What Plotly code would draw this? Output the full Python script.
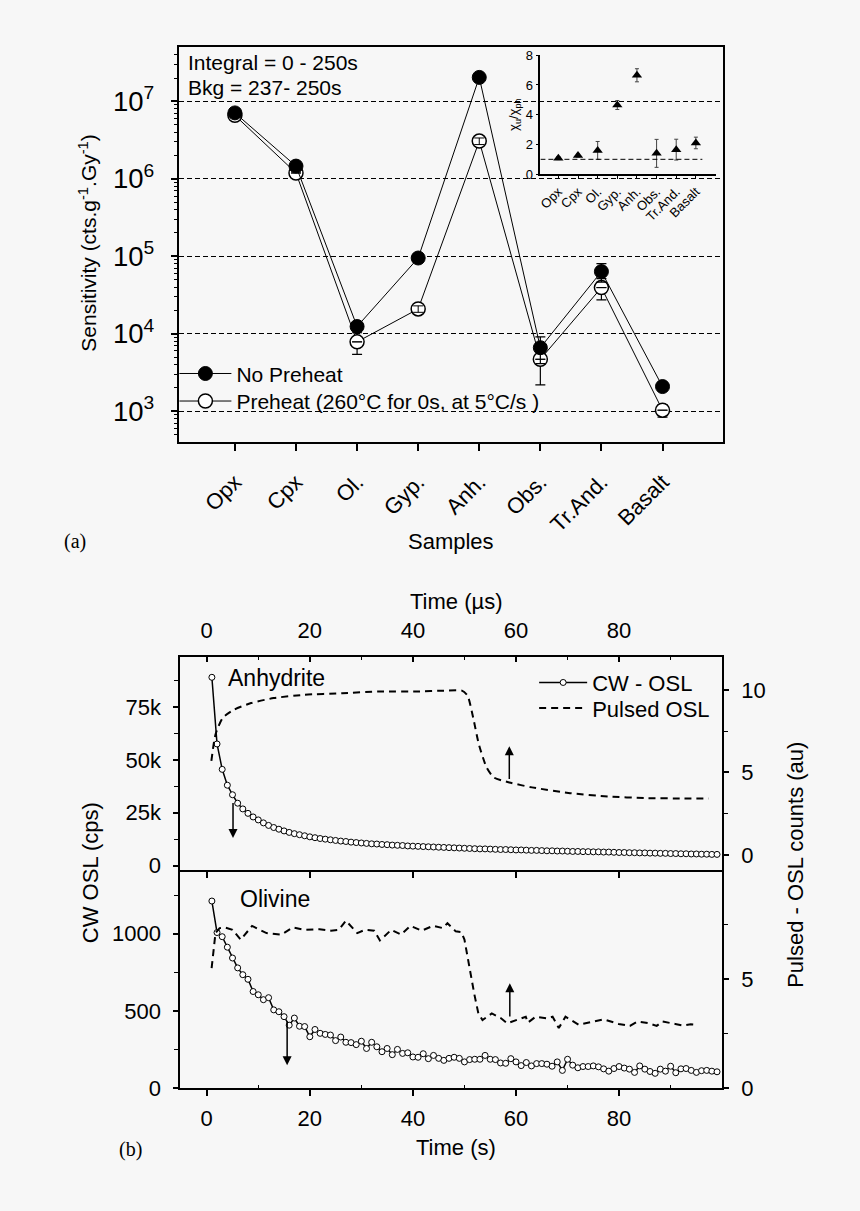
import plotly.graph_objects as go

# ---------------- data ----------------
samples = ["Opx", "Cpx", "Ol.", "Gyp.", "Anh.", "Obs.", "Tr.And.", "Basalt"]
no_preheat = [7.1e6, 1.46e6, 1.24e4, 9.5e4, 2.04e7, 6.6e3, 6.35e4, 2.08e3]
no_preheat_err = [0, 0, 0, 0, 0, 2500, 17000, 0]
preheat = [6.6e6, 1.19e6, 7.85e3, 2.09e4, 3.07e6, 4.68e3, 3.94e4, 1.03e3]
preheat_err = [0, 0, 2450, 0, 0, 2500, 12000, 190]
preheat_small_err = [0, 0, 0, 2000, 3.0e5, 0, 0, 0]

chi_ratio = [1.08, 1.25, 1.6, 4.65, 6.65, 1.4, 1.65, 2.1]
chi_err = [0.1, 0.1, 0.6, 0.3, 0.44, 0.94, 0.7, 0.39]

t_s = list(range(1, 100))
anh_cw_k = [89, 57.5, 45.5, 38, 33.5, 29.5, 26.8, 24.7, 23, 21.6,
            20.2, 19, 18, 17.2, 16.4, 15.7, 15.1, 14.6, 14.1, 13.6,
            13.2, 12.8, 12.5, 12.2, 11.9, 11.6, 11.4, 11.1, 10.9, 10.7,
            10.5, 10.3, 10.2, 10.0, 9.9, 9.7, 9.6, 9.5, 9.3, 9.2,
            9.1, 9.0, 8.9, 8.8, 8.7, 8.6, 8.5, 8.4, 8.3, 8.2,
            8.1, 8.0, 7.9, 7.9, 7.8, 7.7, 7.6, 7.6, 7.5, 7.4,
            7.4, 7.3, 7.2, 7.2, 7.1, 7.0, 7.0, 6.9, 6.9, 6.8,
            6.7, 6.7, 6.6, 6.6, 6.5, 6.5, 6.4, 6.4, 6.3, 6.2,
            6.2, 6.1, 6.1, 6.0, 6.0, 5.9, 5.9, 5.8, 5.8, 5.7,
            5.7, 5.6, 5.6, 5.5, 5.5, 5.4, 5.4, 5.3, 5.3]
anh_pulsed_t = [0.9, 1.7, 3.1, 5.3, 8.6, 13, 18.9, 26.3, 33.6, 41, 46, 49.5,
                50.6, 51.7, 52.8, 54.3, 55.7, 58.7, 63.1, 70.5, 77.8, 85.2, 92.6, 97.4]
anh_pulsed = [5.7, 7.3, 8.3, 8.8, 9.2, 9.5, 9.7, 9.8, 9.9, 9.9, 9.95, 9.95,
              9.65, 8.3, 6.7, 5.3, 4.7, 4.4, 4.1, 3.75, 3.55, 3.45, 3.43, 3.43]

oli_cw = [1212, 1008, 981, 913, 843, 779, 735, 705, 626, 605,
          573, 586, 507, 495, 463, 408, 454, 401, 399, 333,
          380, 355, 348, 344, 308, 331, 297, 295, 282, 304,
          257, 297, 268, 236, 257, 217, 251, 225, 229, 202,
          200, 223, 191, 212, 193, 180, 193, 200, 193, 170,
          185, 187, 187, 212, 187, 185, 163, 161, 191, 170,
          146, 166, 144, 159, 159, 155, 142, 170, 115, 187,
          149, 132, 140, 140, 144, 138, 125, 110, 127, 140,
          130, 123, 102, 144, 123, 108, 96, 123, 110, 142,
          100, 125, 127, 115, 102, 113, 115, 110, 106]
oli_pulsed_t = [0.95, 1.7, 2.5, 3.5, 5, 6.6, 8.8, 11.6, 14.5, 16.7, 19, 21.9, 24.1,
                25.6, 27, 29.2, 30.7, 32.5, 33.6, 35.8, 37.7, 39.5, 41.7, 43.9, 45.8,
                46.7, 48.3, 49.4, 50, 50.9, 51.9, 52.7, 53.5, 55.3, 57.1, 58.3, 60.1,
                61.9, 62.3, 63.8, 66, 67.1, 68.3, 69.6, 72.2, 74.8, 77, 79.9, 82.1,
                83.6, 85.8, 87.3, 88.4, 90.9, 92.4, 93.9, 95.3]
oli_pulsed = [5.5, 7.1, 7.33, 7.36, 7.25, 6.8, 7.43, 7.1, 7.03, 7.36, 7.25, 7.28, 7.21,
              7.25, 7.67, 7.1, 7.25, 7.21, 6.76, 7.25, 7.03, 7.43, 7.21, 7.43, 7.33,
              7.55, 7.18, 7.15, 6.8, 5.53, 4.32, 3.42, 3.12, 3.42, 3.2, 2.97, 3.12,
              3.27, 3.0, 3.27, 3.2, 3.27, 2.75, 3.27, 2.9, 3.05, 3.15, 2.94, 2.85,
              3.05, 2.97, 2.85, 3.05, 2.94, 2.87, 2.93, 2.9]

time_ticks = [0, 20, 40, 60, 80]
time_minor = [10, 30, 50, 70, 90]

# ---------------- layout helpers ----------------
W, H = 860, 1211
def px(x):
    return x / W
def py(y):
    return 1 - y / H

FONT = "Liberation Sans, Arial, Helvetica, sans-serif"
BG = "#f7f7f7"
x_idx = list(range(len(samples)))

def ax(size=22, **kw):
    base = dict(showline=True, linecolor="black", linewidth=1.5, zeroline=False,
                showgrid=False, tickcolor="black", tickwidth=1.5,
                tickfont=dict(family=FONT, size=size, color="black"))
    base.update(kw)
    return base

fig = go.Figure()

# ---- panel (a) main ----
fig.add_trace(go.Scatter(
    x=x_idx, y=preheat, mode="lines+markers", name="Preheat (260°C for 0s, at 5°C/s )",
    line=dict(color="black", width=1),
    marker=dict(symbol="circle", size=14, color="white", line=dict(color="black", width=1.5)),
    error_y=dict(type="data", array=preheat_err, color="black", thickness=1.2, width=5),
    xaxis="x", yaxis="y", legend="legend3"))
fig.add_trace(go.Scatter(
    x=x_idx, y=preheat, mode="markers", showlegend=False, hoverinfo="skip",
    marker=dict(size=1, color="rgba(0,0,0,0)"),
    error_y=dict(type="data", array=preheat_small_err, color="black", thickness=1, width=5),
    xaxis="x", yaxis="y"))
fig.add_trace(go.Scatter(
    x=x_idx, y=no_preheat, mode="lines+markers", name="No Preheat",
    line=dict(color="black", width=1),
    marker=dict(symbol="circle", size=14, color="black", line=dict(color="black", width=1)),
    error_y=dict(type="data", array=no_preheat_err, color="black", thickness=1.2, width=5),
    xaxis="x", yaxis="y", legend="legend"))

# ---- panel (a) inset ----
fig.add_trace(go.Scatter(
    x=x_idx, y=chi_ratio, mode="markers", showlegend=False,
    marker=dict(symbol="triangle-up", size=9, color="black"),
    error_y=dict(type="data", array=chi_err, color="#444", thickness=1, width=2),
    xaxis="x2", yaxis="y2"))

# ---- panel (b) upper: Anhydrite ----
fig.add_trace(go.Scatter(
    x=t_s, y=[v * 1000 for v in anh_cw_k], mode="lines+markers", name="CW - OSL",
    line=dict(color="black", width=1.5),
    marker=dict(symbol="circle", size=6, color="white", line=dict(color="black", width=1)),
    xaxis="x4", yaxis="y5", legend="legend2"))
fig.add_trace(go.Scatter(
    x=anh_pulsed_t, y=anh_pulsed, mode="lines", name="Pulsed OSL",
    line=dict(color="black", width=2, dash="7px,5px", shape="spline", smoothing=0.6),
    xaxis="x4", yaxis="y6", legend="legend4"))

# ---- panel (b) lower: Olivine ----
fig.add_trace(go.Scatter(
    x=t_s, y=oli_cw, mode="lines+markers", showlegend=False,
    line=dict(color="black", width=1.5),
    marker=dict(symbol="circle", size=6, color="white", line=dict(color="black", width=1)),
    xaxis="x3", yaxis="y3"))
fig.add_trace(go.Scatter(
    x=oli_pulsed_t, y=oli_pulsed, mode="lines", showlegend=False,
    line=dict(color="black", width=2, dash="7px,5px"),
    xaxis="x3", yaxis="y4"))
# carrier for the tick axis on the divider between the two (b) panels
fig.add_trace(go.Scatter(x=[None], y=[None], mode="markers", showlegend=False,
                         hoverinfo="skip", xaxis="x5", yaxis="y3"))

bx_dom = [px(177.7), px(721.7)]
t_range = [-5.17, 100.0]
minor_style = dict(ticks="outside", ticklen=4, tickwidth=1, tickcolor="black", showgrid=False)

def leg(x, y, size, w):
    return dict(x=px(x), y=py(y), xanchor="left", yanchor="middle",
                bgcolor="rgba(0,0,0,0)", borderwidth=0, itemwidth=w,
                font=dict(family=FONT, size=size, color="black"))

fig.update_layout(
    width=W, height=H,
    margin=dict(l=0, r=0, t=0, b=0),
    paper_bgcolor=BG, plot_bgcolor="rgba(0,0,0,0)",
    font=dict(family=FONT, color="black"),
    xaxis=ax(size=22, domain=[px(177), px(723)], range=[-0.909, 7.998], anchor="y",
             tickmode="array", tickvals=x_idx, ticktext=samples,
             tickangle=-45, ticks="outside", ticklen=8, mirror=True,
             ticklabelstandoff=9,
             minor=dict(ticks="outside", ticklen=8, tickwidth=1.5, tickcolor="black",
                        tickvals=[8], showgrid=False)),
    yaxis=ax(size=22, type="log", domain=[py(442), py(41)], range=[2.606, 7.698],
             anchor="x", tickmode="linear", tick0=0, dtick=1, exponentformat="power",
             ticks="outside", ticklen=7, mirror=True, ticklabelstandoff=12,
             showgrid=True, gridcolor="black", gridwidth=1, griddash="5px,3px",
             minor=dict(minor_style, dtick="D1")),
    xaxis2=ax(size=13, domain=[px(539.3), px(715)], range=[-0.914, 8.0], anchor="y2",
              tickmode="array", tickvals=x_idx, ticktext=samples, tickangle=-45,
              ticks="outside", ticklen=3, tickwidth=1),
    yaxis2=ax(size=13, domain=[py(170), py(49)], range=[0, 8], anchor="x2",
              tickmode="array", tickvals=[0, 2, 4, 6, 8], ticks="outside", ticklen=3,
              tickwidth=1,
              title=dict(text="χ<sub>u</sub>/χ<sub>ph</sub>", standoff=4,
                         font=dict(family=FONT, size=13, color="black"))),
    # lower panel
    xaxis3=ax(domain=bx_dom, range=t_range, anchor="y3",
              tickmode="array", tickvals=time_ticks, ticks="outside", ticklen=6,
              ticklabelstandoff=4,
              minor=dict(minor_style, ticks="inside", ticklen=3, tickvals=time_minor)),
    xaxis5=ax(overlaying="x3", anchor="y3", side="top", range=t_range,
              tickmode="array", tickvals=time_ticks, ticks="inside", ticklen=6,
              showticklabels=False),
    yaxis3=ax(domain=[py(1099.3), py(879.7)], range=[0, 1399],
              anchor="x3", tickmode="array", tickvals=[0, 500, 1000], ticks="outside",
              ticklen=5, ticklabelstandoff=8,
              minor=dict(minor_style, tickvals=[250, 750, 1250])),
    yaxis4=ax(overlaying="y3", side="right", anchor="x3",
              range=[0, 9.89], tickmode="array", tickvals=[0, 5], ticks="outside",
              ticklen=5, ticklabelstandoff=8,
              minor=dict(minor_style, tickvals=[2.5, 7.5])),
    # upper panel
    xaxis4=ax(domain=bx_dom, range=t_range, anchor="y5", side="top",
              tickmode="array", tickvals=time_ticks, ticks="inside", ticklen=5,
              ticklabelstandoff=8,
              minor=dict(minor_style, ticks="inside", ticklen=3, tickvals=time_minor)),
    yaxis5=ax(domain=[py(879.7), py(660.7)], range=[-3100, 98700],
              anchor="x4", tickmode="array", tickvals=[0, 25000, 50000, 75000],
              ticktext=["0", "25k", "50k", "75k"], ticks="outside", ticklen=5,
              ticklabelstandoff=8,
              minor=dict(minor_style, tickvals=[12500, 37500, 62500, 87500])),
    yaxis6=ax(overlaying="y5", side="right", anchor="x4",
              range=[-1.03, 12.0], tickmode="array", tickvals=[0, 5, 10],
              ticks="outside", ticklen=5, ticklabelstandoff=8,
              minor=dict(minor_style, tickvals=[2.5, 7.5])),
    legend=leg(172, 373, 21, 52),
    legend3=leg(172, 401, 21, 52),
    legend2=leg(533, 687, 22, 48),
    legend4=leg(533, 713, 22, 48),
    showlegend=True,
)

# inset reference line at ratio = 1
fig.add_shape(type="line", xref="x2", yref="y2", x0=-0.914, x1=7.33, y0=1, y1=1,
              line=dict(color="black", width=1, dash="5px,3px"))

def ann(text, x, y, size=21, angle=0, xanchor="center", family=FONT):
    fig.add_annotation(text=text, x=px(x), y=py(y), xref="paper", yref="paper",
                       showarrow=False, textangle=angle, xanchor=xanchor,
                       yanchor="middle", font=dict(family=family, size=size, color="black"))

ann("Integral = 0 - 250s", 184, 56, xanchor="left")
ann("Bkg = 237- 250s", 184, 82, xanchor="left")
ann("Sensitivity (cts.g<sup>-1</sup>.Gy<sup>-1</sup>)", 85, 240, angle=-90)
ann("Samples", 450, 543, size=22)
ann("(a)", 72, 543, size=20, family="Liberation Serif, Times New Roman, serif")
ann("Time (µs)", 455, 604, size=22)
ann("Time (s)", 455, 1160, size=22)
ann("CW OSL (cps)", 88, 880, size=22, angle=-90)
ann("Pulsed - OSL counts (au)", 795, 872, size=22, angle=-90)
ann("(b)", 128, 1162, size=20, family="Liberation Serif, Times New Roman, serif")
ann("Anhydrite", 224, 682, size=23, xanchor="left")
ann("Olivine", 236, 907, size=23, xanchor="left")

def arrow(x, y_tail, y_head, xref, yref):
    fig.add_annotation(x=x, y=y_head, ax=x, ay=y_tail, xref=xref, yref=yref,
                       axref=xref, ayref=yref, showarrow=True, arrowhead=2,
                       arrowsize=1.2, arrowwidth=1.5, arrowcolor="black", text="")

arrow(5.1, 30300, 13100, "x4", "y5")
arrow(58.7, 4.51, 6.59, "x4", "y6")
arrow(15.6, 441, 148, "x3", "y3")
arrow(58.8, 3.21, 4.80, "x3", "y4")

fig.write_html("out.html", config={"displayModeBar": False},
               post_script="document.body.style.margin='0px';document.body.style.background='%s';" % BG)
